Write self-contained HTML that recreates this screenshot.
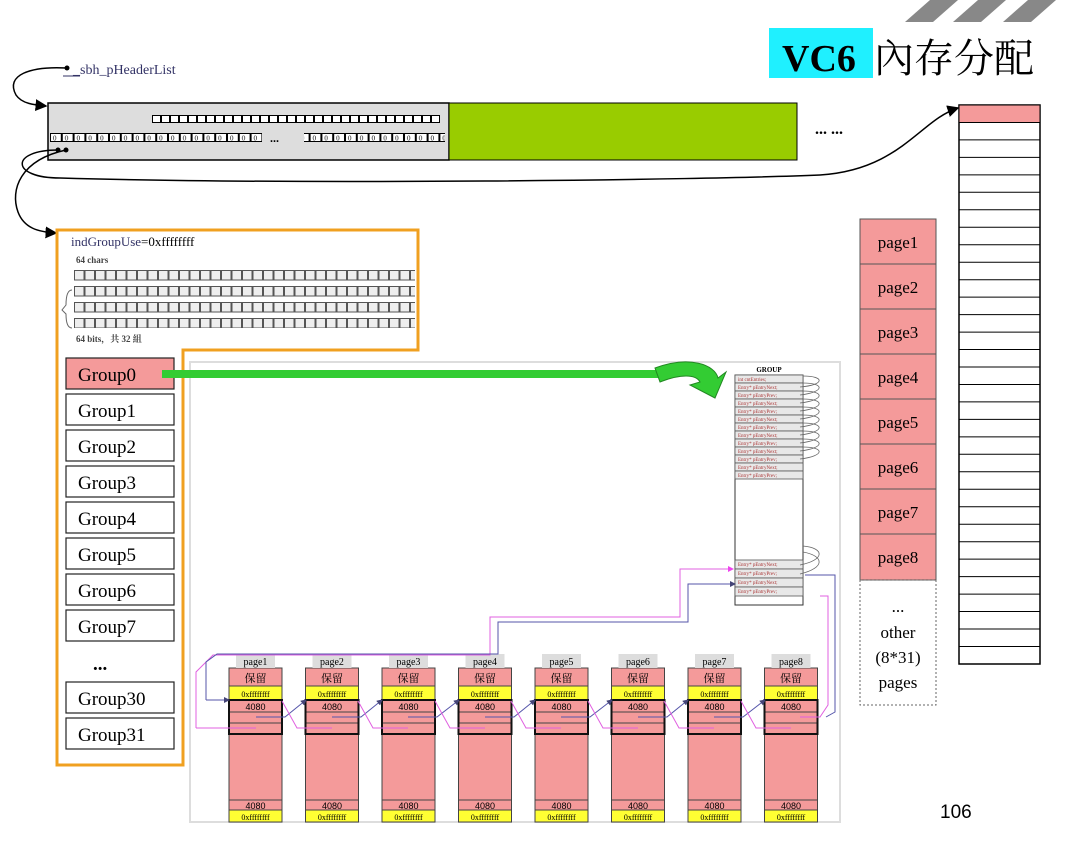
<!DOCTYPE html>
<html><head><meta charset="utf-8"><style>
html,body{margin:0;padding:0;background:#fff;}
svg{display:block;}
text{font-family:"Liberation Serif","Noto Serif CJK SC",serif;}
text.cjk{font-family:"Noto Serif CJK SC",serif;}
text.sans,g.sans text{font-family:"Liberation Sans",sans-serif;}
</style></head><body>
<svg width="1067" height="849" viewBox="0 0 1067 849" xmlns="http://www.w3.org/2000/svg">
<defs>
<pattern id="cellA" x="152" y="115" width="9" height="8" patternUnits="userSpaceOnUse"><rect x="0.5" y="0.5" width="8" height="7" fill="#fff" stroke="#000" stroke-width="1"/></pattern>
<pattern id="cellB" x="50" y="133" width="11.8" height="9" patternUnits="userSpaceOnUse"><rect x="0.5" y="0.5" width="10.8" height="8" fill="#fff" stroke="#000" stroke-width="1"/><text x="3" y="7.5" font-size="7" fill="#000">0</text></pattern>
<pattern id="bits" x="74" y="270" width="10.5" height="16" patternUnits="userSpaceOnUse"><rect x="0.5" y="0.5" width="9.5" height="9.5" fill="#eee" stroke="#555" stroke-width="1"/></pattern>
<marker id="ah" markerWidth="8" markerHeight="8" refX="7" refY="4" orient="auto"><path d="M0,0 L8,4 L0,8z" fill="#000"/></marker>
<marker id="ahb" markerWidth="6" markerHeight="6" refX="5" refY="3" orient="auto"><path d="M0,0 L6,3 L0,6z" fill="#447"/></marker>
<marker id="ahp" markerWidth="6" markerHeight="6" refX="5" refY="3" orient="auto"><path d="M0,0 L6,3 L0,6z" fill="#e4e"/></marker>
</defs>

<!-- title -->
<polygon points="905,22 930,0 958,0 933,22" fill="#888"/>
<polygon points="953,22 978,0 1006,0 981,22" fill="#888"/>
<polygon points="1003,22 1028,0 1056,0 1031,22" fill="#888"/>
<rect x="769" y="28" width="104" height="50" fill="#1ff0ff"/>
<text x="782" y="71" font-size="38" font-weight="bold">VC6</text>
<text x="874" y="72" font-size="40" class="cjk">內存分配</text>

<!-- sbh label -->
<text x="73" y="74" font-size="14" fill="#336">_sbh_pHeaderList</text>
<line x1="63" y1="76" x2="80" y2="76" stroke="#336"/>
<circle cx="67" cy="68" r="2.5" fill="#000"/>
<path d="M67,68 C30,66 5,75 16,95 C22,104 35,105 46,106" fill="none" stroke="#000" stroke-width="1.5" marker-end="url(#ah)"/>

<!-- header bar -->
<rect x="48" y="103" width="401" height="57" fill="#ddd" stroke="#000" stroke-width="1.5"/>
<rect x="449" y="103" width="348" height="57" fill="#99cc00" stroke="#000" stroke-width="1"/>
<rect x="152" y="115" width="288" height="8" fill="url(#cellA)"/>
<rect x="50" y="133" width="212" height="9" fill="url(#cellB)"/>
<rect x="304" y="133" width="141" height="9" fill="url(#cellB)"/>
<text x="270" y="142" font-size="12" font-weight="bold">...</text>
<text x="815" y="134" font-size="16" font-weight="bold">... ...</text>
<circle cx="58" cy="150" r="2.5" fill="#000"/><circle cx="66" cy="150" r="2.5" fill="#000"/>
<path d="M58,150 C10,150 10,178 60,178 C300,185 700,180 820,175 C900,170 920,120 958,108" fill="none" stroke="#000" stroke-width="1.5" marker-end="url(#ah)"/>
<path d="M66,150 C20,160 10,190 18,212 C24,228 38,232 56,233" fill="none" stroke="#000" stroke-width="1.5" marker-end="url(#ah)"/>

<!-- right list -->
<rect x="959" y="105" width="81" height="559" fill="#fff" stroke="#000" stroke-width="1.5"/>
<rect x="959" y="105" width="81" height="17.5" fill="#f49a9a" stroke="#000" stroke-width="1"/>
<g stroke="#000" stroke-width="1">
<line x1="959" y1="139.9" x2="1040" y2="139.9"/><line x1="959" y1="157.4" x2="1040" y2="157.4"/><line x1="959" y1="174.9" x2="1040" y2="174.9"/><line x1="959" y1="192.3" x2="1040" y2="192.3"/><line x1="959" y1="209.8" x2="1040" y2="209.8"/><line x1="959" y1="227.3" x2="1040" y2="227.3"/><line x1="959" y1="244.7" x2="1040" y2="244.7"/><line x1="959" y1="262.2" x2="1040" y2="262.2"/><line x1="959" y1="279.7" x2="1040" y2="279.7"/><line x1="959" y1="297.1" x2="1040" y2="297.1"/><line x1="959" y1="314.6" x2="1040" y2="314.6"/><line x1="959" y1="332.1" x2="1040" y2="332.1"/><line x1="959" y1="349.5" x2="1040" y2="349.5"/><line x1="959" y1="367" x2="1040" y2="367"/><line x1="959" y1="384.5" x2="1040" y2="384.5"/><line x1="959" y1="401.9" x2="1040" y2="401.9"/><line x1="959" y1="419.4" x2="1040" y2="419.4"/><line x1="959" y1="436.9" x2="1040" y2="436.9"/><line x1="959" y1="454.3" x2="1040" y2="454.3"/><line x1="959" y1="471.8" x2="1040" y2="471.8"/><line x1="959" y1="489.3" x2="1040" y2="489.3"/><line x1="959" y1="506.7" x2="1040" y2="506.7"/><line x1="959" y1="524.2" x2="1040" y2="524.2"/><line x1="959" y1="541.7" x2="1040" y2="541.7"/><line x1="959" y1="559.1" x2="1040" y2="559.1"/><line x1="959" y1="576.6" x2="1040" y2="576.6"/><line x1="959" y1="594.1" x2="1040" y2="594.1"/><line x1="959" y1="611.5" x2="1040" y2="611.5"/><line x1="959" y1="629" x2="1040" y2="629"/><line x1="959" y1="646.5" x2="1040" y2="646.5"/>
</g>

<!-- pages column -->
<g stroke="#555" stroke-width="1" fill="#f49a9a">
<rect x="860" y="219" width="76" height="45"/><rect x="860" y="264" width="76" height="45"/><rect x="860" y="309" width="76" height="45"/><rect x="860" y="354" width="76" height="45"/><rect x="860" y="399" width="76" height="45"/><rect x="860" y="444" width="76" height="45"/><rect x="860" y="489" width="76" height="45"/><rect x="860" y="534" width="76" height="46"/>
</g>
<g font-size="17" text-anchor="middle">
<text x="898" y="248">page1</text><text x="898" y="293">page2</text><text x="898" y="338">page3</text><text x="898" y="383">page4</text><text x="898" y="428">page5</text><text x="898" y="473">page6</text><text x="898" y="518">page7</text><text x="898" y="563">page8</text>
<text x="898" y="612">...</text><text x="898" y="638">other</text><text x="898" y="663">(8*31)</text><text x="898" y="688">pages</text>
</g>
<rect x="860" y="580" width="76" height="125" fill="none" stroke="#666" stroke-dasharray="2,2"/>

<!-- orange boxes -->
<path d="M57,230 H418 V350 H183 V765 H57 Z" fill="none" stroke="#f0a020" stroke-width="3"/>
<text x="71" y="246" font-size="13" fill="#336">indGroupUse<tspan fill="#000">=0xffffffff</tspan></text>
<text x="76" y="263" font-size="9" font-weight="bold" fill="#444">64 chars</text>
<rect x="74" y="270" width="341" height="58" fill="url(#bits)"/>
<path d="M72,290 Q66,290 66,305 L62,310 L66,314 Q66,328 72,328" fill="none" stroke="#666"/>
<text x="76" y="342" font-size="9" font-weight="bold" fill="#444">64 bits，共 32 組</text>

<!-- groups -->
<g stroke="#222" stroke-width="1.2" fill="#fff">
<rect x="66" y="358" width="108" height="31" fill="#f49a9a"/>
<rect x="66" y="394" width="108" height="31"/><rect x="66" y="430" width="108" height="31"/><rect x="66" y="466" width="108" height="31"/><rect x="66" y="502" width="108" height="31"/><rect x="66" y="538" width="108" height="31"/><rect x="66" y="574" width="108" height="31"/><rect x="66" y="610" width="108" height="31"/><rect x="66" y="682" width="108" height="31"/><rect x="66" y="718" width="108" height="31"/>
</g>
<g font-size="19">
<text x="78" y="381">Group0</text><text x="78" y="417">Group1</text><text x="78" y="453">Group2</text><text x="78" y="489">Group3</text><text x="78" y="525">Group4</text><text x="78" y="561">Group5</text><text x="78" y="597">Group6</text><text x="78" y="633">Group7</text>
<text x="93" y="670" font-weight="bold">...</text>
<text x="78" y="705">Group30</text><text x="78" y="741">Group31</text>
</g>

<!-- gray panel -->
<rect x="190" y="362" width="650" height="460" fill="#fff" stroke="#ddd" stroke-width="2"/>
<rect x="162" y="370" width="500" height="8" fill="#33cc33"/>
<path d="M655,368 C690,355 715,365 718,378 L726,372 L715,398 L690,385 L700,382 C696,374 680,374 660,382 Z" fill="#33cc33" stroke="#228822"/>

<!-- GROUP struct -->
<text x="769" y="372" font-size="7" font-weight="bold" text-anchor="middle">GROUP</text>
<rect x="735" y="375" width="68" height="230" fill="#fff" stroke="#333"/>
<g stroke="#555" stroke-width="0.8" fill="#e8e8e8">
<rect x="735" y="375" width="68" height="8"/><rect x="735" y="383" width="68" height="8"/><rect x="735" y="391" width="68" height="8"/><rect x="735" y="399" width="68" height="8"/><rect x="735" y="407" width="68" height="8"/><rect x="735" y="415" width="68" height="8"/><rect x="735" y="423" width="68" height="8"/><rect x="735" y="431" width="68" height="8"/><rect x="735" y="439" width="68" height="8"/><rect x="735" y="447" width="68" height="8"/><rect x="735" y="455" width="68" height="8"/><rect x="735" y="463" width="68" height="8"/><rect x="735" y="471" width="68" height="8"/>
<rect x="735" y="560" width="68" height="9"/><rect x="735" y="569" width="68" height="9"/><rect x="735" y="578" width="68" height="9"/><rect x="735" y="587" width="68" height="9"/>
</g>
<g font-size="5" fill="#a33">
<text x="738" y="381">int cntEntries;</text>
<text x="738" y="389">Entry* pEntryNext;</text><text x="738" y="397">Entry* pEntryPrev;</text><text x="738" y="405">Entry* pEntryNext;</text><text x="738" y="413">Entry* pEntryPrev;</text><text x="738" y="421">Entry* pEntryNext;</text><text x="738" y="429">Entry* pEntryPrev;</text><text x="738" y="437">Entry* pEntryNext;</text><text x="738" y="445">Entry* pEntryPrev;</text><text x="738" y="453">Entry* pEntryNext;</text><text x="738" y="461">Entry* pEntryPrev;</text><text x="738" y="469">Entry* pEntryNext;</text><text x="738" y="477">Entry* pEntryPrev;</text>
<text x="738" y="566">Entry* pEntryNext;</text><text x="738" y="575">Entry* pEntryPrev;</text><text x="738" y="584">Entry* pEntryNext;</text><text x="738" y="593">Entry* pEntryPrev;</text>
</g>
<g fill="none" stroke="#666" stroke-width="0.8">
<path d="M800,387 C825,385 825,376 803,376"/><path d="M800,395 C825,392 825,383 803,383"/>
<path d="M800,403 C825,400 825,391 803,391"/><path d="M800,411 C825,408 825,399 803,399"/>
<path d="M800,419 C825,416 825,407 803,407"/><path d="M800,427 C825,424 825,415 803,415"/>
<path d="M800,435 C825,432 825,423 803,423"/><path d="M800,443 C825,440 825,431 803,431"/>
<path d="M800,451 C825,448 825,439 803,439"/><path d="M800,459 C825,456 825,447 803,447"/>
<path d="M800,565 C825,560 825,548 803,546"/><path d="M800,574 C825,568 825,556 803,552"/>
</g>

<!-- bottom pages -->
<g id="pg">
<g stroke="#444" stroke-width="1">
<rect x="229" y="668" width="53" height="154" fill="#f49a9a"/>
<rect x="229" y="686" width="53" height="14" fill="#ffff33"/>
<rect x="229" y="810" width="53" height="12" fill="#ffff33"/>
<line x1="229" y1="800" x2="282" y2="800"/>
<line x1="229" y1="712" x2="282" y2="712"/><line x1="229" y1="723" x2="282" y2="723"/>
</g>
<rect x="229" y="700" width="53" height="34" fill="none" stroke="#111" stroke-width="2"/>
<rect x="236" y="654" width="39" height="14" fill="#ddd"/>
</g>
<use href="#pg" x="76.5"/><use href="#pg" x="153"/><use href="#pg" x="229.5"/><use href="#pg" x="306"/><use href="#pg" x="382.5"/><use href="#pg" x="459"/><use href="#pg" x="535.5"/>
<g font-size="10" text-anchor="middle">
<text x="255.5" y="665">page1</text><text x="332" y="665">page2</text><text x="408.5" y="665">page3</text><text x="485" y="665">page4</text><text x="561.5" y="665">page5</text><text x="638" y="665">page6</text><text x="714.5" y="665">page7</text><text x="791" y="665">page8</text>
</g>
<g font-size="11" text-anchor="middle">
<text class="cjk" x="255.5" y="682">保留</text><text class="cjk" x="332" y="682">保留</text><text class="cjk" x="408.5" y="682">保留</text><text class="cjk" x="485" y="682">保留</text><text class="cjk" x="561.5" y="682">保留</text><text class="cjk" x="638" y="682">保留</text><text class="cjk" x="714.5" y="682">保留</text><text class="cjk" x="791" y="682">保留</text>
</g>
<g font-size="8" text-anchor="middle">
<text x="255.5" y="697">0xffffffff</text><text x="332" y="697">0xffffffff</text><text x="408.5" y="697">0xffffffff</text><text x="485" y="697">0xffffffff</text><text x="561.5" y="697">0xffffffff</text><text x="638" y="697">0xffffffff</text><text x="714.5" y="697">0xffffffff</text><text x="791" y="697">0xffffffff</text>
<text x="255.5" y="820">0xffffffff</text><text x="332" y="820">0xffffffff</text><text x="408.5" y="820">0xffffffff</text><text x="485" y="820">0xffffffff</text><text x="561.5" y="820">0xffffffff</text><text x="638" y="820">0xffffffff</text><text x="714.5" y="820">0xffffffff</text><text x="791" y="820">0xffffffff</text>
</g>
<g font-size="9" text-anchor="middle" class="sans">
<text x="255.5" y="710">4080</text><text x="332" y="710">4080</text><text x="408.5" y="710">4080</text><text x="485" y="710">4080</text><text x="561.5" y="710">4080</text><text x="638" y="710">4080</text><text x="714.5" y="710">4080</text><text x="791" y="710">4080</text>
<text x="255.5" y="809">4080</text><text x="332" y="809">4080</text><text x="408.5" y="809">4080</text><text x="485" y="809">4080</text><text x="561.5" y="809">4080</text><text x="638" y="809">4080</text><text x="714.5" y="809">4080</text><text x="791" y="809">4080</text>
</g>

<!-- links -->
<g fill="none" stroke-width="1">
<path d="M196,728 V672 L213,655 H490 V617 H680 V569 H733" stroke="#e060e0" marker-end="url(#ahp)"/>
<path d="M206,700 V662 L217,654 H498 V622 H688 V584 H735" stroke="#5555aa" marker-end="url(#ahb)"/>
<path d="M820,596 H828 V705 L820,717 H800" stroke="#e060e0"/>
<path d="M805,575 H835 V712 L826,717" stroke="#5555aa"/>
<path d="M206,700 H229" stroke="#5555aa" marker-end="url(#ahb)"/>
<path d="M196,728 H256" stroke="#e060e0"/>
<path d="M256,717 H285 L306,700" stroke="#5555aa" marker-end="url(#ahb)"/><path d="M332,717 H361 L382,700" stroke="#5555aa" marker-end="url(#ahb)"/><path d="M408,717 H437 L459,700" stroke="#5555aa" marker-end="url(#ahb)"/><path d="M485,717 H514 L535,700" stroke="#5555aa" marker-end="url(#ahb)"/><path d="M561,717 H590 L612,700" stroke="#5555aa" marker-end="url(#ahb)"/><path d="M638,717 H667 L688,700" stroke="#5555aa" marker-end="url(#ahb)"/><path d="M714,717 H743 L765,700" stroke="#5555aa" marker-end="url(#ahb)"/><path d="M791,717 H800"/>
<path d="M282,701 L297,728 H332" stroke="#e060e0"/><path d="M358,701 L373,728 H408" stroke="#e060e0"/><path d="M435,701 L450,728 H485" stroke="#e060e0"/><path d="M511,701 L526,728 H561" stroke="#e060e0"/><path d="M588,701 L603,728 H638" stroke="#e060e0"/><path d="M664,701 L679,728 H714" stroke="#e060e0"/><path d="M741,701 L756,728 H791" stroke="#e060e0"/>
</g>

<text x="940" y="818" font-size="19" class="sans">106</text>
</svg>
</body></html>
